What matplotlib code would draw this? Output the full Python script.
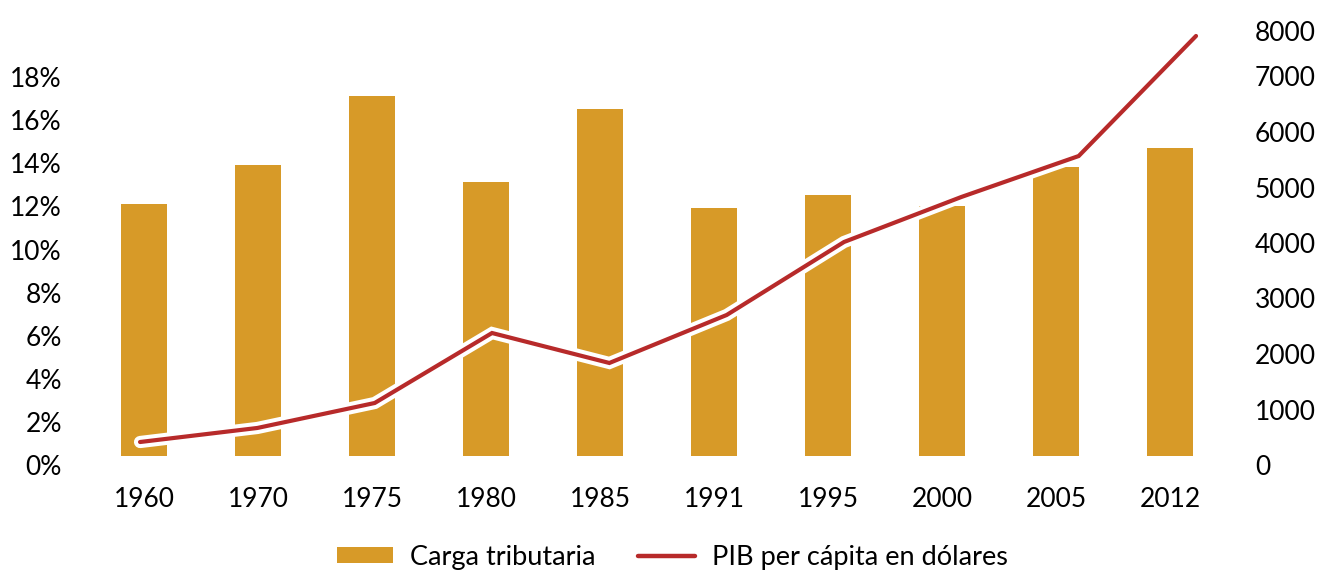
import matplotlib
matplotlib.use("Agg")
import matplotlib.pyplot as plt
import matplotlib.patheffects as pe
import matplotlib.transforms as mtransforms
from matplotlib.ticker import FuncFormatter
from matplotlib.lines import Line2D
from matplotlib.patches import Patch

plt.rcParams['font.family'] = ['Lato', 'DejaVu Sans']

years = ['1960', '1970', '1975', '1980', '1985', '1991', '1995', '2000', '2005', '2012']
carga_tributaria = [11.7, 13.5, 16.7, 12.7, 16.1, 11.5, 12.1, 11.6, 13.4, 14.3]  # %
pib_per_capita = [252, 505, 955, 2216, 1676, 2541, 3856, 4667, 5405, 7568]     # USD
left_ticks = [0, 2, 4, 6, 8, 10, 12, 14, 16, 18]
right_ticks = [0, 1000, 2000, 3000, 4000, 5000, 6000, 7000, 8000]

bar_color = '#D79A28'
line_color = '#B72A2A'
fs = 19

W, H = 1319, 573
fig = plt.figure(figsize=(W / 100, H / 100), dpi=100)
ax1 = fig.add_axes([87 / W, (H - 456) / H, 1140 / W, 444 / H])
x = list(range(len(years)))
ax1.bar(x, carga_tributaria, width=0.40, color=bar_color, label='Carga tributaria', zorder=2)
ax1.set_xlim(-0.5, len(years) - 0.5)
ax1.set_ylim(0, 444 / 21.55)
ax1.set_yticks(left_ticks)
ax1.yaxis.set_major_formatter(FuncFormatter(lambda v, p: f'{v:.0f}%'))
ax1.set_xticks(x)
ax1.set_xticklabels(years)
ax1.tick_params(axis='both', length=0, labelsize=fs, colors='black')
ax1.tick_params(axis='y', pad=18)
ax1.tick_params(axis='x', pad=22)
for s in ax1.spines.values():
    s.set_visible(False)

ax2 = ax1.twinx()
ax2.set_ylim(0, 8000)
ax2.set_yticks(right_ticks)
ax2.set_yticklabels([str(v) for v in right_ticks])
ax2.tick_params(axis='y', length=0, labelsize=fs, pad=20, colors='black')
for s in ax2.spines.values():
    s.set_visible(False)

ax3 = ax2.twiny()
ax3.set_xlim(-0.452, len(years) - 1 + 0.264)
ax3.set_xticks([])
for s in ax3.spines.values():
    s.set_visible(False)
line, = ax3.plot(x, pib_per_capita, color=line_color, linewidth=3.0,
                 solid_capstyle='round', solid_joinstyle='miter',
                 label='PIB per cápita en dólares', zorder=3)
line.set_path_effects([pe.Stroke(linewidth=8.8, foreground='white', capstyle='round'), pe.Normal()])

# shift y tick labels down slightly like the reference
off = mtransforms.ScaledTranslation(0, -9 / 100, fig.dpi_scale_trans)
for lab in ax1.get_yticklabels():
    lab.set_transform(lab.get_transform() + off)
labs2 = ax2.get_yticklabels()
for i, lab in enumerate(labs2):
    extra = -10 / 100 if i == len(labs2) - 1 else 0
    lab.set_transform(lab.get_transform() + mtransforms.ScaledTranslation(0, -9 / 100 + extra, fig.dpi_scale_trans))

handles = [Patch(facecolor=bar_color, edgecolor='none', label='Carga tributaria'),
           Line2D([0], [0], color=line_color, linewidth=3.2, solid_capstyle='round', label='PIB per cápita en dólares')]
fig.legend(handles=handles, loc='center', bbox_to_anchor=(672 / W, (H - 557) / H), ncol=2,
           frameon=False, fontsize=19.5, handlelength=2.1, handleheight=0.55, handletextpad=0.6,
           columnspacing=1.6)

fig.savefig('out.png', dpi=100)
